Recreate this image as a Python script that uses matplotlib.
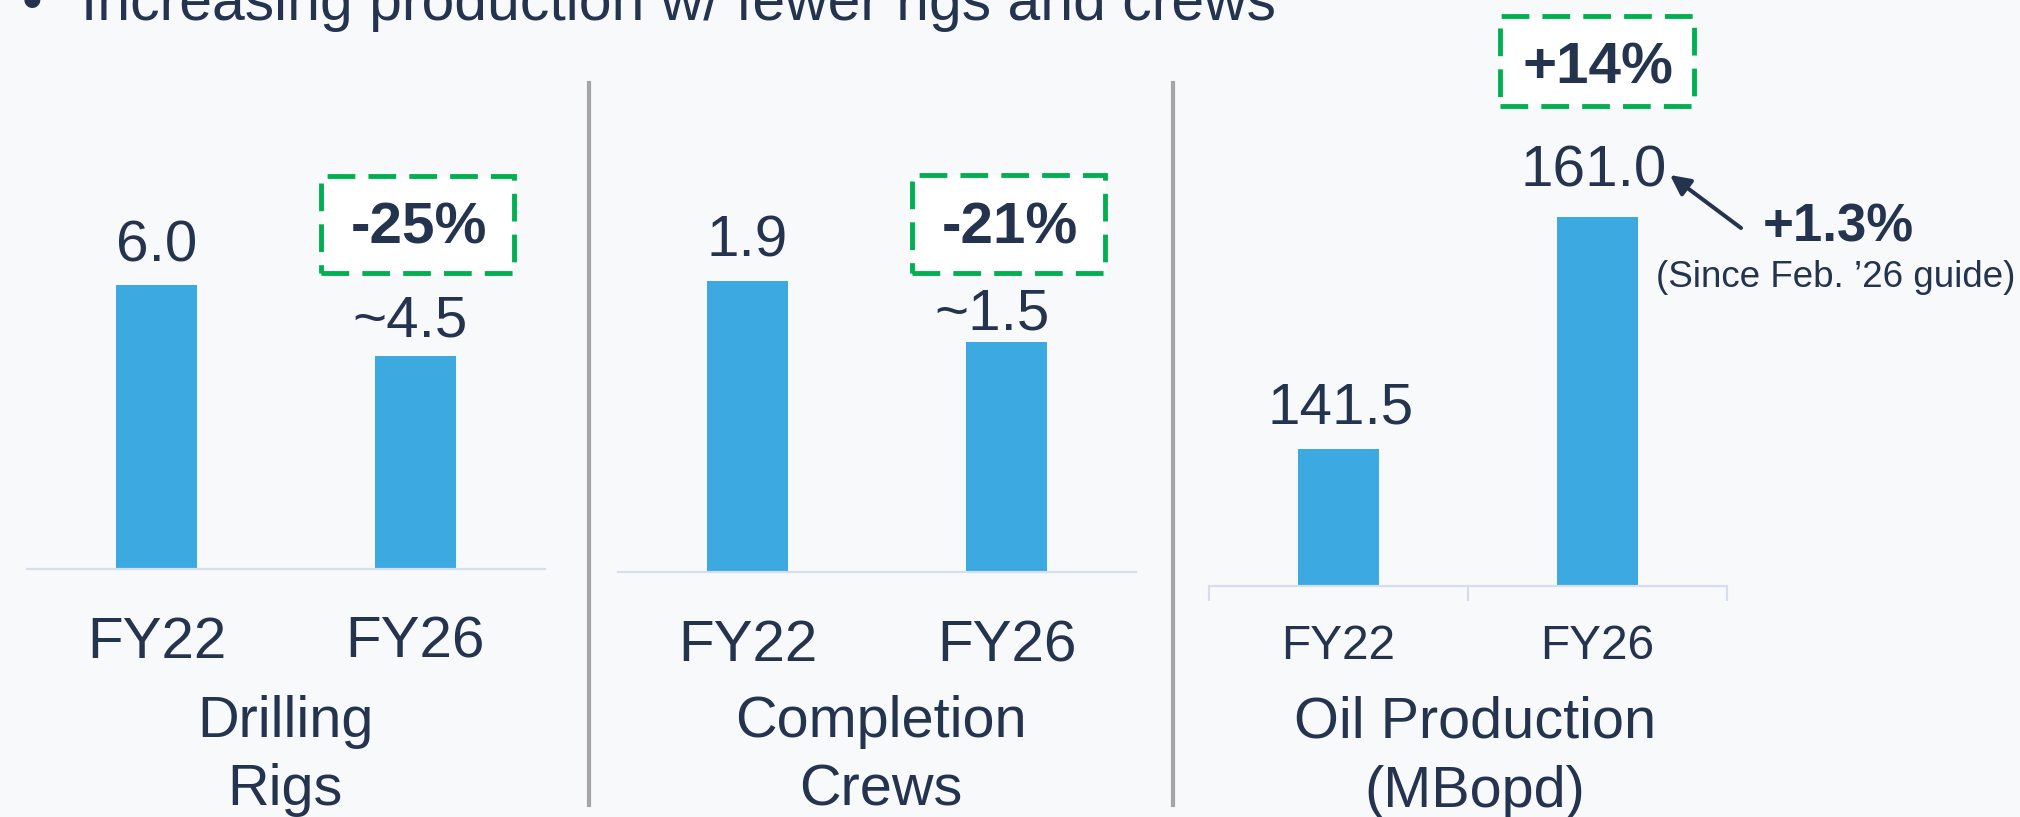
import matplotlib
matplotlib.use("Agg")
import matplotlib.pyplot as plt
from matplotlib.patches import Rectangle
from matplotlib.lines import Line2D

# ---------------- data ----------------
title = "Increasing production w/ fewer rigs and crews"
categories = ["FY22", "FY26"]
panel_titles = ["Drilling\nRigs", "Completion\nCrews", "Oil Production\n(MBopd)"]
drilling_rigs = [6.0, 4.5]
completion_crews = [1.9, 1.5]
oil_production = [141.5, 161.0]
drilling_labels = ["6.0", "~4.5"]
crews_labels = ["1.9", "~1.5"]
oil_labels = ["141.5", "161.0"]
change_labels = ["-25%", "-21%", "+14%"]
guide_change = "+1.3%"
guide_note = "(Since Feb. \u201926 guide)"

# ---------------- style / layout ----------------
W, H, DPI = 2020, 817, 100
TEXT = "#24344F"
BAR = "#3CAAE1"
GREEN = "#00B050"
BG = "#F8F9FB"
AXIS = "#D6DEEC"
SEP = "#A6A6A6"
plt.rcParams["font.family"] = ["Liberation Sans", "DejaVu Sans"]


def fx(x):
    return x / W


def fy(y):
    return 1 - y / H


def PT(px):
    return px * 72 / DPI


panels = [
    dict(values=drilling_rigs, labels=drilling_labels, left=27, right=545, base=569,
         ymin=0, ppu=47.3, tick_fs=42, tick_base=658, lab_dx=[0, -5], lab_gap=[24, 20],
         bticks=False, title_x=285, title_base=[737, 805],
         box=(321, 176, 514, 273), box_base=244),
    dict(values=completion_crews, labels=crews_labels, left=618, right=1136, base=572,
         ymin=0, ppu=153.2, tick_fs=42, tick_base=661, lab_dx=[0, -14], lab_gap=[24, 13],
         bticks=False, title_x=881, title_base=[737, 805],
         box=(912, 175, 1105, 273), box_base=244),
    dict(values=oil_production, labels=oil_labels, left=1209, right=1727, base=586,
         ymin=130, ppu=11.91, tick_fs=34.5, tick_base=659, lab_dx=[2, -4], lab_gap=[26, 30],
         bticks=True, title_x=1475, title_base=[737, 807],
         box=(1500, 16, 1694, 106), box_base=84),
]

fig = plt.figure(figsize=(W / DPI, H / DPI), dpi=DPI, facecolor=BG)

axes = []
for i, p in enumerate(panels):
    ax = fig.add_axes([fx(p["left"]), fy(p["base"]), (p["right"] - p["left"]) / W, p["base"] / H])
    ax.set_facecolor("none")
    x = list(range(len(categories)))
    ax.bar(x, p["values"], width=0.313, color=BAR, zorder=2)
    ax.set_xlim(-0.5, 1.5)
    ax.set_ylim(p["ymin"], p["ymin"] + p["base"] / p["ppu"])
    for s in ("top", "left", "right"):
        ax.spines[s].set_visible(False)
    ax.spines["bottom"].set_color(AXIS)
    ax.spines["bottom"].set_linewidth(1.6)
    ax.set_yticks([])
    ax.tick_params(axis="x", which="major", length=0, pad=PT(p["tick_base"] - p["base"]),
                   labelsize=p["tick_fs"], labelcolor=TEXT)
    ax.set_xticks(x, categories)
    if p["bticks"]:
        ax.set_xticks([-0.5, 0.5, 1.5], minor=True)
        ax.tick_params(axis="x", which="minor", length=PT(15), width=1.6, color=AXIS,
                       direction="out")
    for lbl in ax.get_xticklabels():
        lbl.set_verticalalignment("baseline")
    # value labels
    for xi, v, t, dx, gap in zip(x, p["values"], p["labels"], p["lab_dx"], p["lab_gap"]):
        ax.annotate(t, xy=(xi, v), xytext=(PT(dx), PT(gap)), textcoords="offset points",
                    ha="center", va="baseline", fontsize=42, color=TEXT)
    # category title (two lines)
    for line, yb in zip(panel_titles[i].split("\n"), p["title_base"]):
        fig.text(fx(p["title_x"]), fy(yb), line, ha="center", va="baseline",
                 fontsize=41.5, color=TEXT)
    # dashed change box
    x0, y0, x1, y1 = p["box"]
    fig.patches.append(Rectangle((fx(x0), fy(y1)), (x1 - x0) / W, (y1 - y0) / H,
                                 transform=fig.transFigure, facecolor="white",
                                 edgecolor=GREEN, linewidth=3.5,
                                 linestyle=(0, (5.7, 2.7)), zorder=1))
    fig.text(fx((x0 + x1) / 2 + 1), fy(p["box_base"]), change_labels[i], ha="center",
             va="baseline", fontsize=42, fontweight="bold", color=TEXT, zorder=3)
    axes.append(ax)

# separators
for sx in (589, 1173):
    fig.add_artist(Line2D([fx(sx), fx(sx)], [fy(83), fy(805)], transform=fig.transFigure,
                          color=SEP, linewidth=3))

# heading bullet (cut off at the top edge, as in the original slide crop)
fig.text(fx(22), fy(20), "\u2022", ha="left", va="baseline", fontsize=42.4, color=TEXT)
fig.text(fx(81), fy(20), title, ha="left", va="baseline", fontsize=42.4, color=TEXT)

# guide annotation
axes[2].annotate("", xy=(fx(1670), fy(175)), xytext=(fx(1741), fy(228)),
                 xycoords="figure fraction", textcoords="figure fraction",
                 arrowprops=dict(arrowstyle="-|>", color=TEXT, lw=2.9, mutation_scale=30,
                                 shrinkA=0, shrinkB=0),
                 annotation_clip=False)
fig.text(fx(1763), fy(241), guide_change, ha="left", va="baseline", fontsize=38,
         fontweight="bold", color=TEXT)
fig.text(fx(1656), fy(287), guide_note, ha="left", va="baseline", fontsize=26.5, color=TEXT)

fig.savefig("out.png", dpi=DPI, facecolor=BG)
